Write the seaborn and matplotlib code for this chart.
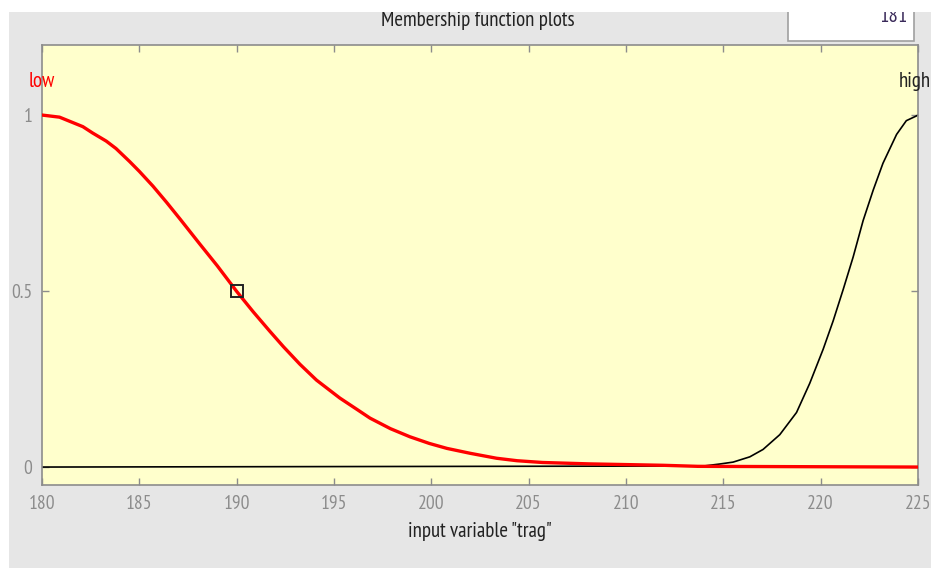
import matplotlib
matplotlib.use("Agg")
import matplotlib.pyplot as plt
import matplotlib.patches as mpatches
import seaborn as sns
import pandas as pd

# ---- data ----
low_x = [180, 180.9, 182.1, 182.6, 183.3, 183.8, 184.5, 185.0, 185.7, 186.4, 187.1,
         188.1, 189.0, 190.0, 190.85, 191.7, 192.4, 193.25, 194.1, 195.3, 196.2,
         196.85, 197.9, 198.9, 199.9, 200.8, 202.0, 203.35, 204.4, 205.7, 208.1,
         211.9, 213.7, 225]
low_y = [1.0, 0.994, 0.967, 0.949, 0.926, 0.905, 0.868, 0.84, 0.798, 0.752, 0.704,
         0.634, 0.572, 0.499, 0.441, 0.386, 0.342, 0.292, 0.247, 0.196, 0.163,
         0.139, 0.109, 0.086, 0.067, 0.053, 0.039, 0.025, 0.018, 0.013, 0.009,
         0.005, 0.002, 0.0]
high_x = [180, 214.0, 214.8, 215.5, 216.36, 217.04, 217.9, 218.76, 219.44, 220.13,
          220.64, 221.16, 221.67, 222.18, 222.7, 223.2, 223.9, 224.4, 224.9, 225]
high_y = [0.0, 0.003, 0.0085, 0.014, 0.029, 0.050, 0.092, 0.155, 0.238, 0.335,
          0.415, 0.505, 0.597, 0.700, 0.787, 0.863, 0.945, 0.984, 0.997, 1.0]
marker_x = [190]
marker_y = [0.5]
x_ticks = [180, 185, 190, 195, 200, 205, 210, 215, 220, 225]
y_ticks = [0, 0.5, 1]
y_tick_labels = ["0", "0.5", "1"]
mf_names = ["low", "high"]

sns.set_style("white")
plt.rcParams['font.family'] = ['PT Sans Narrow', 'Liberation Sans', 'DejaVu Sans']
FS_TICK = 14
FS = 15

W, H = 931, 568
fig = plt.figure(figsize=(W / 100, H / 100), dpi=100)
fig.patch.set_facecolor("#e6e6e6")

ax = fig.add_axes([42 / W, 1 - 485 / H, (918 - 42) / W, (485 - 45) / H])
ax.set_facecolor("#ffffcc")

df_low = pd.DataFrame({"x": low_x, "y": low_y})
df_high = pd.DataFrame({"x": high_x, "y": high_y})

sns.lineplot(data=df_high, x="x", y="y", ax=ax, color="black", linewidth=1.2,
             estimator=None, sort=False, zorder=2)
sns.lineplot(data=df_low, x="x", y="y", ax=ax, color="#ff0000", linewidth=2.4,
             estimator=None, sort=False, zorder=3)
ax.plot(marker_x, marker_y, linestyle="none", marker="s", markersize=8.5,
        markerfacecolor="none", markeredgecolor="#222222", markeredgewidth=1.4, zorder=4)

ax.set_xlim(180, 225)
ax.set_ylim(-0.051, 1.199)
ax.set_xticks(x_ticks)
ax.set_yticks(y_ticks)
ax.set_yticklabels(y_tick_labels)
ax.tick_params(direction="in", length=5, width=1, colors="#8c8c8c",
               labelcolor="#8c8c8c", labelsize=FS_TICK, top=True, right=True,
               bottom=True, left=True, pad=7)
for s in ax.spines.values():
    s.set_color("#8c8c8c")
    s.set_linewidth(1.2)
ax.set_xlabel('input variable "trag"', fontsize=FS, color="#222222", labelpad=7)
ax.set_ylabel("")

ax.text(180, 1.094, mf_names[0], color="#ff0000", fontsize=FS, ha="center",
        va="center", clip_on=False)
ax.annotate(mf_names[1], xy=(225, 1.094), xytext=(9, 0), textcoords="offset points",
            color="#222222", fontsize=FS, ha="right", va="center",
            annotation_clip=False)

fig.text(478 / W, 1 - 21 / H, "Membership function plots", fontsize=FS,
         color="#222222", ha="center", va="center")

# white edit box at top-right
box = mpatches.Rectangle((788 / W, 1 - 41 / H), (914 - 788) / W, 41 / H,
                         transform=fig.transFigure, facecolor="white",
                         edgecolor="#a0a0a0", linewidth=1.2, zorder=5)
fig.patches.append(box)
fig.text(908 / W, 1 - 16 / H, "181", fontsize=FS, color="#3a2a5a",
         ha="right", va="center", zorder=6)
# white strips at top and left
fig.patches.append(mpatches.Rectangle((0, 1 - 12 / H), 1, 12 / H,
                                      transform=fig.transFigure, facecolor="white",
                                      edgecolor="none", zorder=10))
fig.patches.append(mpatches.Rectangle((0, 0), 9 / W, 1,
                                      transform=fig.transFigure, facecolor="white",
                                      edgecolor="none", zorder=10))

fig.savefig("out.png", dpi=100, facecolor=fig.get_facecolor())
